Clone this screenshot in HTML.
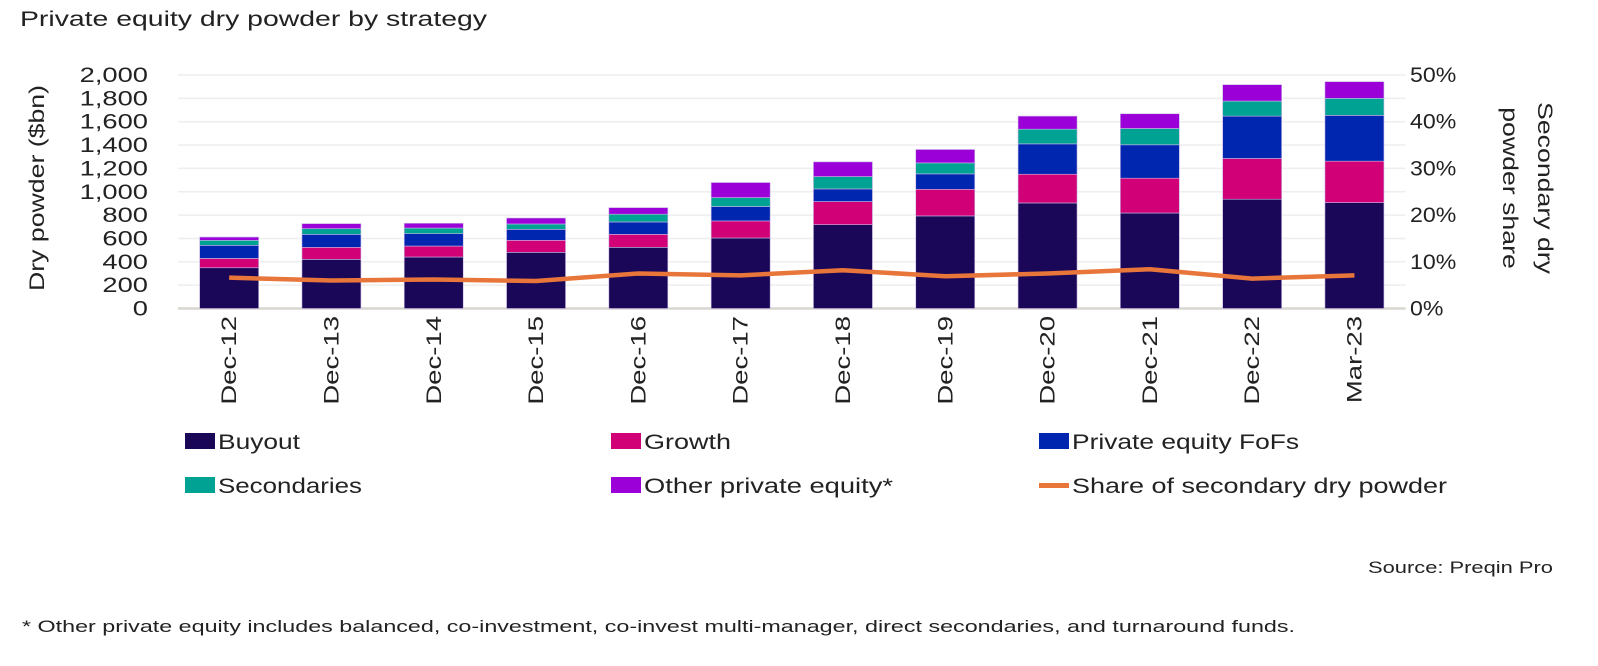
<!DOCTYPE html>
<html><head><meta charset="utf-8"><style>
body{margin:0;background:#fff;font-family:"Liberation Sans",sans-serif;color:#222}
#wrap{position:relative;width:1598px;height:666px;overflow:hidden}
svg text{font-family:"Liberation Sans",sans-serif;fill:#222}
</style></head><body><div id="wrap">
<svg id="chart" width="1598" height="666"></svg>
</div>
<script>
const categories=["Dec-12","Dec-13","Dec-14","Dec-15","Dec-16","Dec-17","Dec-18","Dec-19","Dec-20","Dec-21","Dec-22","Mar-23"];
const buyout=[349,421,441,481,524,604,718,793,904,818,936,907];
const growth=[80,103,94,103,111,146,198,228,246,298,349,355];
const fofs=[112,111,106,94,106,123,108,132,260,286,363,392];
const secondaries=[43,49,48,46,67,77,106,94,126,140,129,146];
const other=[28,43,41,51,56,129,126,115,112,126,140,143];
const sharePct=[6.6,6.0,6.2,5.9,7.5,7.1,8.2,6.9,7.5,8.4,6.4,7.1];
const leftTicks=[0,200,400,600,800,1000,1200,1400,1600,1800,2000];
const rightTicks=[0,10,20,30,40,50];

const NS="http://www.w3.org/2000/svg";
const svg=document.getElementById('chart');
const X0=178,BAND=102.3,BW=59,Y0=308.5,YTOP=75;
const xC=i=>X0+BAND*(i+0.5);
const yL=v=>Y0-(v/2000)*(Y0-YTOP);
const yR=p=>Y0-(p/50)*(Y0-YTOP);
function mk(t,a){const e=document.createElementNS(NS,t);for(const k in a)e.setAttribute(k,a[k]);svg.appendChild(e);return e;}
function txt(s,a,f){const e=mk('text',a);e.textContent=s;if(f){const w=e.getComputedTextLength();e.setAttribute('textLength',w*f);e.setAttribute('lengthAdjust','spacingAndGlyphs');}return e;}
function txtW(s,a,w){const e=mk('text',a);e.textContent=s;e.setAttribute('textLength',w);e.setAttribute('lengthAdjust','spacingAndGlyphs');return e;}

let t=txtW("Private equity dry powder by strategy",{x:20,y:26,'font-size':21},467);



leftTicks.forEach(v=>{
 const g=mk('line',{x1:X0,x2:X0+BAND*12,y1:yL(v),y2:yL(v),stroke:v?'#eeeeee':'#d9d6d0','stroke-width':v?1.5:2.5});
 
 
 const l=txt(v.toLocaleString('en-US'),{x:148,y:yL(v)+7,'font-size':21,'text-anchor':'end'},1.3);
 
 
});
rightTicks.forEach(p=>{
 const l=txt(p+'%',{x:1410,y:yR(p)+7,'font-size':21},1.1);
 
 
});
t=txt("Dry powder ($bn)",{x:0,y:0,'font-size':21,'text-anchor':'middle',transform:'translate(44,188) rotate(-90)'},1.27);


t=txt("Secondary dry",{x:0,y:0,'font-size':21,'text-anchor':'middle',transform:'translate(1538,188) rotate(90)'},1.27);


t=txt("powder share",{x:0,y:0,'font-size':21,'text-anchor':'middle',transform:'translate(1503,188) rotate(90)'},1.27);



const series=[["buyout",buyout,"#1b0757"],["growth",growth,"#d10077"],["fofs",fofs,"#0026b0"],["secondaries",secondaries,"#00a294"],["other",other,"#9b00d9"]];
categories.forEach((c,i)=>{
 let base=0;
 series.forEach(([n,arr,col])=>{
  const v=arr[i];
  const r=mk('rect',{x:xC(i)-BW/2,y:yL(base+v),width:BW,height:yL(base)-yL(base+v),fill:col,stroke:'#c9b8e6','stroke-width':0.6});
  
  
  base+=v;
 });
 const l=txt(c,{x:0,y:0,'font-size':21,'text-anchor':'end',transform:`translate(${xC(i)+7},316) rotate(-90)`},1.31);
 
 
});
const pts=sharePct.map((p,i)=>xC(i)+','+yR(p)).join(' ');
const pl=mk('polyline',{points:pts,fill:'none',stroke:'#e8753a','stroke-width':4.5,'stroke-linejoin':'round'});



const legend=[["Buyout","#1b0757",185,441,"sq",82],["Growth","#d10077",611,441,"sq",87],["Private equity FoFs","#0026b0",1039,441,"sq",227],["Secondaries","#00a294",185,485,"sq",144],["Other private equity*","#9b00d9",611,485,"sq",249],["Share of secondary dry powder","#e8753a",1039,485,"ln",375]];
legend.forEach(([lab,col,x,y,k,w])=>{
 const m=k==='sq'?mk('rect',{x:x,y:y-8,width:30,height:16,fill:col}):mk('rect',{x:x,y:y-2,width:30,height:5,fill:col});
 
 
 const l=txtW(lab,{x:x+33,y:y+8,'font-size':21},w);
 
 
});
t=txtW("Source: Preqin Pro",{x:1368,y:573,'font-size':17},185);


t=txtW("* Other private equity includes balanced, co-investment, co-invest multi-manager, direct secondaries, and turnaround funds.",{x:22,y:632,'font-size':17},1273);


</script></body></html>
